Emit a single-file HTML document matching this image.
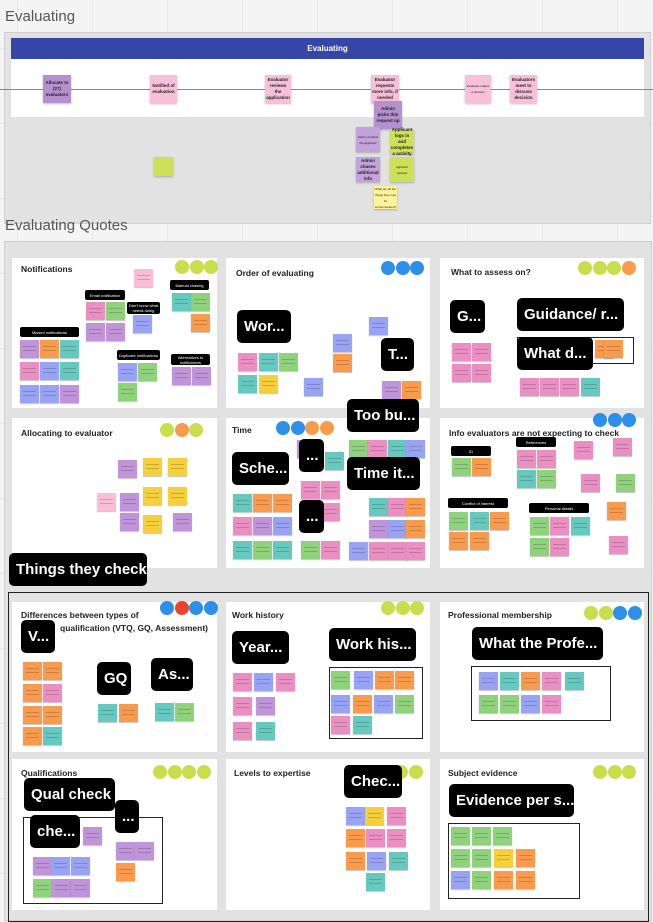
<!DOCTYPE html>
<html><head><meta charset="utf-8">
<style>
*{box-sizing:border-box;margin:0;padding:0}
body{width:653px;height:919px;overflow:hidden;position:relative;font-family:"Liberation Sans",sans-serif;
background-color:#f4f4f4;background-image:linear-gradient(90deg,#e9e9e9 1px,transparent 1px),linear-gradient(#e9e9e9 1px,transparent 1px);background-size:75px 75px;background-position:17px 0,0 48px}
.abs{position:absolute}
.title{position:absolute;font-size:15px;color:#555}
.frame{position:absolute;background:#e2e2e2;border:1px solid #cfcfcf}
.panel{position:absolute;background:#fff}
.ptitle{position:absolute;font-size:8.5px;font-weight:bold;color:#222;white-space:nowrap}
.dot{position:absolute;width:14px;height:14px;border-radius:50%}
.st{position:absolute;width:19px;height:18px;box-shadow:0 1px 1px rgba(0,0,0,.25);
background-image:repeating-linear-gradient(transparent 0 3px,rgba(0,0,0,.18) 3px 4px);background-size:70% 60%;background-repeat:no-repeat;background-position:50% 40%}
.big{position:absolute;background:#000;color:#fff;font-weight:bold;font-size:15px;border-radius:5px;display:flex;align-items:center;padding-left:7px;white-space:nowrap;overflow:hidden}
.lab{position:absolute;background:#000;color:#fff;font-size:4px;border-radius:2px;display:flex;align-items:center;justify-content:center;text-align:center;line-height:5px}
.fs{position:absolute;box-shadow:0 1px 2px rgba(0,0,0,.25);font-size:4.5px;font-weight:bold;color:#222;display:flex;align-items:center;justify-content:center;text-align:center;line-height:6px;padding:1px}
.box{position:absolute;border:1.5px solid #222;background:#fff}
</style></head><body>

<div class="title" style="left:5px;top:8px">Evaluating</div>
<div class="frame" style="left:4px;top:32px;width:647px;height:192px"></div>
<div class="abs" style="left:11px;top:38px;width:633px;height:21px;background:#3546a6;color:#fff;font-size:8px;font-weight:bold;display:flex;align-items:center;justify-content:center">Evaluating</div>
<div class="abs" style="left:11px;top:59px;width:633px;height:58px;background:#fff"></div>
<div class="abs" style="left:0;top:89px;width:653px;height:1px;background:#888"></div>

<div class="fs" style="left:43px;top:75px;width:28px;height:28px;background:#b68fcf">Allocate to (27) evaluators</div>
<div class="fs" style="left:150px;top:75px;width:27px;height:28px;background:#f7bfd8">Notified of evaluation</div>
<div class="fs" style="left:265px;top:75px;width:26px;height:28px;background:#f7bfd8">Evaluator reviews the application</div>
<div class="fs" style="left:371px;top:75px;width:28px;height:28px;background:#f7bfd8">Evaluator requests more info, if needed</div>
<div class="fs" style="left:374px;top:101px;width:28px;height:28px;background:#b68fcf">Admin picks this request up</div>
<div class="fs" style="left:465px;top:75px;width:26px;height:28px;background:#f7bfd8;font-size:3px;font-weight:normal">Evaluator makes a decision</div>
<div class="fs" style="left:510px;top:75px;width:27px;height:28px;background:#f7bfd8">Evaluators meet to discuss decision</div>
<div class="fs" style="left:356px;top:127px;width:24px;height:25px;background:#c4a2dc;font-size:3px;font-weight:normal">Admin contacts the applicant</div>
<div class="fs" style="left:390px;top:129px;width:24px;height:25px;background:#cde05a">Applicant logs in and completes a activity</div>
<div class="fs" style="left:356px;top:157px;width:24px;height:25px;background:#c4a2dc">Admin chases additional info</div>
<div class="fs" style="left:390px;top:157px;width:24px;height:25px;background:#cde05a;font-size:3px;font-weight:normal">Applicant uploads</div>
<div class="fs" style="left:374px;top:186px;width:23px;height:23px;background:#fbf29a;font-size:3px;font-weight:normal">What are all the things they may be communicated?</div>
<div class="fs" style="left:154px;top:157px;width:19px;height:19px;background:#cde05a;font-size:2px"></div>

<div class="title" style="left:5px;top:217px">Evaluating Quotes</div>
<div class="frame" style="left:4px;top:241px;width:648px;height:680px"></div>
<div class="abs" style="left:8px;top:592px;width:641px;height:330px;border:1.5px solid #222"></div>

<div id="board"></div>

<script>
// colour keys
const C={p:'#e98fc2',o:'#f99b4c',t:'#66c9c0',g:'#8fd17d',b:'#98a3f4',u:'#c094d8',y:'#f4d03c',l:'#c9de4c',r:'#e8452e',B:'#2e8fe8',k:'#f8bfd4'};
const panels=[
 ['notifications-panel',12,258,205,150,'Notifications',21,264],
 ['order-panel',226,258,204,150,'Order of evaluating',236,268],
 ['assess-panel',440,258,204,150,'What to assess on?',451,267],
 ['allocating-panel',12,418,205,150,'Allocating to evaluator',21,428],
 ['time-panel',226,418,204,150,'Time',232,425],
 ['info-panel',440,418,204,150,'Info evaluators are not expecting to check',449,428],
 ['differences-panel',12,602,205,150,'Differences between types of',21,610],
 ['work-history-panel',226,602,204,150,'Work history',232,610],
 ['membership-panel',440,602,204,150,'Professional membership',448,610],
 ['qualifications-panel',12,759,205,151,'Qualifications',21,768],
 ['levels-panel',226,759,204,151,'Levels to expertise',234,768],
 ['subject-panel',440,759,204,151,'Subject evidence',448,768]
];
const dotGroups=[
 [175,260,'lll'],[381,261,'BBB'],[578,261,'lllo'],
 [160,423,'lol'],[276,421,'BBoo'],[593,413,'BBB'],
 [160,601,'BrBB'],[381,601,'lll'],[584,606,'llBB'],
 [153,765,'llll'],[394,765,'ll'],[593,765,'lll']
];
const boxes=[[517,337,117,27],[329,667,94,72],[471,666,140,55],[23,817,140,87],[448,823,132,76]];
const stickies=[
 [20,340,'u'],[40,340,'o'],[60,340,'t'],[20,362,'p'],[40,362,'b'],[60,362,'t'],[20,385,'b'],[40,385,'b'],[60,385,'u'],
 [86,302,'p'],[106,302,'g'],[86,323,'u'],[106,323,'u'],[133,315,'b'],[118,363,'b'],[138,363,'g'],[118,383,'g'],
 [172,367,'u'],[192,367,'u'],[172,293,'t'],[191,293,'g'],[191,314,'o'],[134,269,'k'],
 [238,353,'p'],[259,353,'t'],[279,353,'g'],[238,375,'t'],[259,375,'y'],[304,378,'b'],[333,334,'b'],[333,354,'o'],[369,317,'b'],[382,381,'u'],[402,381,'o'],
 [595,340,'o'],[604,340,'o'],[452,343,'p'],[472,343,'p'],[452,364,'p'],[472,364,'p'],[520,378,'p'],[540,378,'p'],[560,378,'p'],[581,378,'t'],
 [118,460,'u'],[143,458,'y'],[168,458,'y'],[97,493,'k'],[120,493,'u'],[143,487,'y'],[168,487,'y'],[120,513,'u'],[143,515,'y'],[173,513,'u'],
 [297,440,'u'],[325,452,'t'],[349,440,'g'],[368,440,'p'],[388,440,'t'],[406,440,'b'],
 [233,494,'t'],[253,494,'o'],[273,494,'o'],[233,517,'p'],[253,517,'u'],[273,517,'b'],[233,541,'t'],[253,541,'g'],[273,541,'t'],
 [301,481,'p'],[321,481,'p'],[321,503,'p'],[301,541,'g'],[321,541,'p'],
 [369,498,'t'],[388,498,'p'],[406,498,'o'],[369,520,'u'],[388,520,'b'],[406,520,'o'],[349,542,'b'],[369,542,'p'],[388,542,'p'],[406,542,'p'],
 [452,458,'g'],[472,458,'o'],[517,450,'p'],[537,450,'p'],[517,470,'t'],[537,470,'g'],[574,441,'p'],[613,438,'p'],[581,474,'p'],[616,474,'g'],
 [449,512,'g'],[470,512,'t'],[490,512,'o'],[449,532,'o'],[470,532,'o'],[530,517,'g'],[550,517,'p'],[571,517,'t'],[530,538,'g'],[550,538,'p'],[607,502,'o'],[609,536,'p'],
 [23,662,'o'],[43,662,'o'],[23,684,'o'],[43,684,'p'],[23,706,'o'],[43,706,'o'],[23,727,'o'],[43,727,'t'],
 [98,704,'t'],[119,704,'o'],[155,703,'t'],[175,703,'g'],
 [233,673,'p'],[254,673,'b'],[276,673,'p'],[233,697,'p'],[256,697,'u'],[233,722,'p'],[256,722,'t'],
 [331,671,'g'],[354,671,'b'],[375,671,'o'],[395,671,'o'],[331,695,'b'],[353,695,'o'],[374,695,'b'],[395,695,'g'],[331,716,'p'],[353,716,'t'],
 [479,672,'b'],[500,672,'t'],[521,672,'o'],[542,672,'p'],[565,672,'t'],[479,695,'g'],[500,695,'g'],[521,695,'b'],[542,695,'p'],
 [83,827,'u'],[116,842,'u'],[135,842,'u'],[116,863,'o'],[33,857,'u'],[51,857,'b'],[71,857,'b'],[33,879,'g'],[52,879,'u'],[71,879,'u'],
 [346,807,'b'],[365,807,'y'],[387,807,'p'],[346,829,'o'],[366,829,'p'],[387,829,'p'],[346,852,'o'],[367,852,'b'],[389,852,'t'],[366,873,'t'],
 [451,827,'g'],[472,827,'g'],[493,827,'g'],[451,849,'g'],[472,849,'g'],[494,849,'y'],[516,849,'o'],[451,871,'b'],[472,871,'g'],[494,871,'o'],[516,871,'o']
];
const smallLabels=[
 [85,290,40,10,'Email notification'],[127,302,33,12,"Don't know what needs doing"],[20,327,59,10,'Missed notifications'],
 [117,350,43,10,'Duplicate notifications'],[170,280,39,10,'Manual chasing'],[171,354,39,11,'Alternatives to notifications'],
 [451,446,40,10,'ID'],[516,437,40,10,'References'],[448,498,60,10,'Conflict of interest'],[529,503,60,10,'Personal details']
];
const bigLabels=[
 [237,310,54,'Wor...'],[381,338,33,'T...'],[450,300,35,'G...'],[517,298,107,'Guidance/ r...'],[517,337,76,'What d...'],
 [232,452,57,'Sche...'],[299,439,25,'...'],[299,500,25,'...'],[347,399,72,'Too bu...'],[347,457,73,'Time it...'],
 [9,553,138,'Things they check'],
 [21,620,34,'V...'],[97,662,34,'GQ'],[151,658,42,'As...'],[232,631,57,'Year...'],[329,628,87,'Work his...'],[472,627,131,'What the Profe...'],
 [24,778,91,'Qual check'],[115,800,24,'...'],[30,815,50,'che...'],[344,765,58,'Chec...'],[449,784,125,'Evidence per s...']
];
const board=document.getElementById('board');
function mk(cls,css){const d=document.createElement('div');d.className=cls;d.style.cssText=css;board.appendChild(d);return d;}
panels.forEach(p=>{
 const d=mk('panel',`left:${p[1]}px;top:${p[2]}px;width:${p[3]}px;height:${p[4]}px`);
 
 
 const t=mk('ptitle',`left:${p[6]}px;top:${p[7]}px`);t.textContent=p[5];
 
 
});
const t2=mk('ptitle','left:60px;top:623px');t2.textContent='qualification (VTQ, GQ, Assessment)';


dotGroups.forEach(g=>{[...g[2]].forEach((c,i)=>{
 const d=mk('dot',`left:${g[0]+i*14.5}px;top:${g[1]}px;background:${C[c]}`);
 
 
});});
boxes.forEach(b=>{
 const d=mk('box',`left:${b[0]}px;top:${b[1]}px;width:${b[2]}px;height:${b[3]}px`);
 
 
});
stickies.forEach(s=>{
 const d=mk('st',`left:${s[0]}px;top:${s[1]}px;background-color:${C[s[2]]}`);
 
 
});
smallLabels.forEach(l=>{
 const d=mk('lab',`left:${l[0]}px;top:${l[1]}px;width:${l[2]}px;height:${l[3]}px`);d.textContent=l[4];
 
 
});
bigLabels.forEach(l=>{
 const d=mk('big',`left:${l[0]}px;top:${l[1]}px;width:${l[2]}px;height:33px`);d.textContent=l[3];
 
 
});
</script>
</body></html>
